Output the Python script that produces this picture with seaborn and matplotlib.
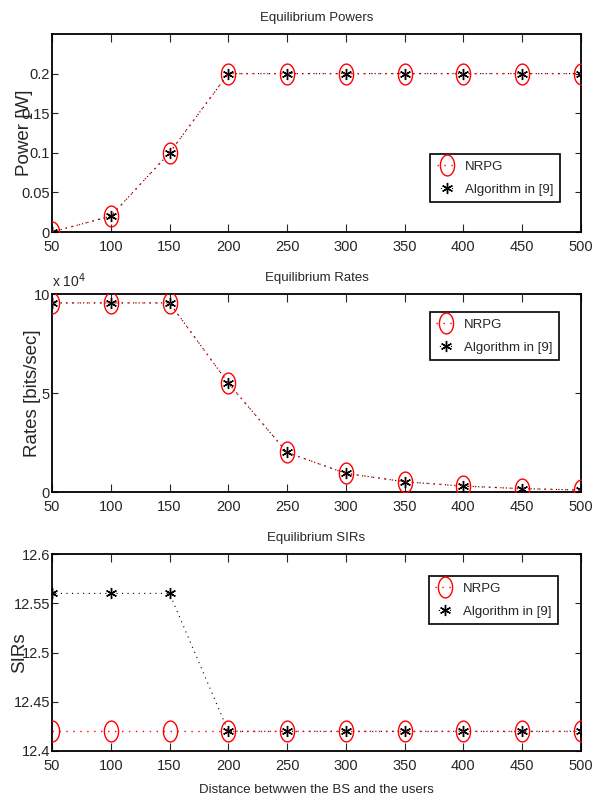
import numpy as np
import matplotlib
matplotlib.use("Agg")
import matplotlib.pyplot as plt
from matplotlib.path import Path
from matplotlib.ticker import FuncFormatter
import seaborn as sns

# ---- data ----
distance = [50, 100, 150, 200, 250, 300, 350, 400, 450, 500]
power_nrpg = [0.0, 0.02, 0.10, 0.20, 0.20, 0.20, 0.20, 0.20, 0.20, 0.20]
power_alg = [0.0, 0.02, 0.10, 0.20, 0.20, 0.20, 0.20, 0.20, 0.20, 0.20]
rate_nrpg = [95500, 95500, 95500, 55000, 20000, 9400, 5200, 3000, 1700, 1000]
rate_alg = [95500, 95500, 95500, 55000, 20000, 9400, 5200, 3000, 1700, 1000]
sir_nrpg = [12.42, 12.42, 12.42, 12.42, 12.42, 12.42, 12.42, 12.42, 12.42, 12.42]
sir_alg = [12.56, 12.56, 12.56, 12.42, 12.42, 12.42, 12.42, 12.42, 12.42, 12.42]

titles = ["Equilibrium Powers", "Equilibrium Rates", "Equilibrium SIRs"]
ylabels = ["Power [W]", "Rates [bits/sec]", "SIRs"]
xlabel = "Distance betwwen the BS and the users"
legend_labels = ["NRPG", "Algorithm in [9]"]
xticks = [50, 100, 150, 200, 250, 300, 350, 400, 450, 500]
power_ticks = [0, 0.05, 0.1, 0.15, 0.2]
rate_ticks = [0, 50000, 100000]
sir_ticks = [12.4, 12.45, 12.5, 12.55, 12.6]

sns.set_style("ticks")
plt.rcParams["font.family"] = ["Liberation Sans", "DejaVu Sans"]

fig = plt.figure(figsize=(5.92, 8.02), dpi=100)

# ellipse marker (vertically elongated circle)
t = np.linspace(0, 2 * np.pi, 60)
ell = Path(np.column_stack([0.68 * np.cos(t), np.sin(t)]), closed=True)
star = (6, 2, 0)

positions = [
    [0.0878, 0.7107, 0.8936, 0.2469],
    [0.0878, 0.3865, 0.8936, 0.2469],
    [0.0878, 0.0636, 0.8936, 0.2456],
]
data = [(power_nrpg, power_alg), (rate_nrpg, rate_alg), (sir_nrpg, sir_alg)]
ylims = [(0, 0.25), (0, 100000), (12.4, 12.6)]
yticks = [power_ticks, rate_ticks, sir_ticks]
leg_anchor = [(0.715, 0.394), (0.714, 0.909), (0.712, 0.888)]
ylab_x = [-0.036, -0.021, -0.046]

dot = (0, (1, 4))
for i in range(3):
    ax = fig.add_axes(positions[i])
    a, b = data[i]
    sns.lineplot(x=distance, y=a, ax=ax, color="red", linestyle=dot, linewidth=1.0,
                 marker=ell, markersize=15, markerfacecolor="none",
                 markeredgecolor="red", markeredgewidth=1.0, label=legend_labels[0],
                 zorder=3)
    sns.lineplot(x=distance, y=b, ax=ax, color="black", linestyle=(2, (1, 4)),
                 linewidth=0.8, marker=star, markersize=8, markeredgecolor="black",
                 markeredgewidth=1.0, label=legend_labels[1], zorder=2.5)
    ax.set_xlim(50, 500)
    ax.set_ylim(*ylims[i])
    ax.set_xticks(xticks)
    ax.set_yticks(yticks[i])
    if i == 1:
        ax.yaxis.set_major_formatter(FuncFormatter(lambda v, p: "%g" % (v / 1e4)))
        ax.text(0.0, 1.02, r"x 10$^4$", transform=ax.transAxes, fontsize=10,
                ha="left", va="bottom")
    else:
        ax.yaxis.set_major_formatter(FuncFormatter(lambda v, p: "%g" % v))
    ax.tick_params(axis="x", direction="in", top=True, length=6, width=0.8,
                   labelsize=10.5, pad=6)
    ax.tick_params(axis="y", direction="in", right=True, length=4, width=0.8,
                   labelsize=10.5, pad=1.5)
    for s in ax.spines.values():
        s.set_linewidth(1.3)
        s.set_color("black")
    ax.set_title(titles[i], fontsize=9.5, pad=9.5)
    ax.set_ylabel(ylabels[i], fontsize=13.5)
    ax.yaxis.set_label_coords(ylab_x[i], 0.5)
    if i == 2:
        ax.set_xlabel(xlabel, fontsize=9.5, labelpad=8)
    else:
        ax.set_xlabel("")
    leg = ax.legend(loc="upper left", bbox_to_anchor=leg_anchor[i], borderaxespad=0,
                    fontsize=9.5, frameon=True, fancybox=False, framealpha=1,
                    edgecolor="black", handlelength=1.5, handletextpad=0.6,
                    labelspacing=0.8, borderpad=0.5)
    leg.get_frame().set_linewidth(1.2)

fig.savefig("out.png", dpi=100)
